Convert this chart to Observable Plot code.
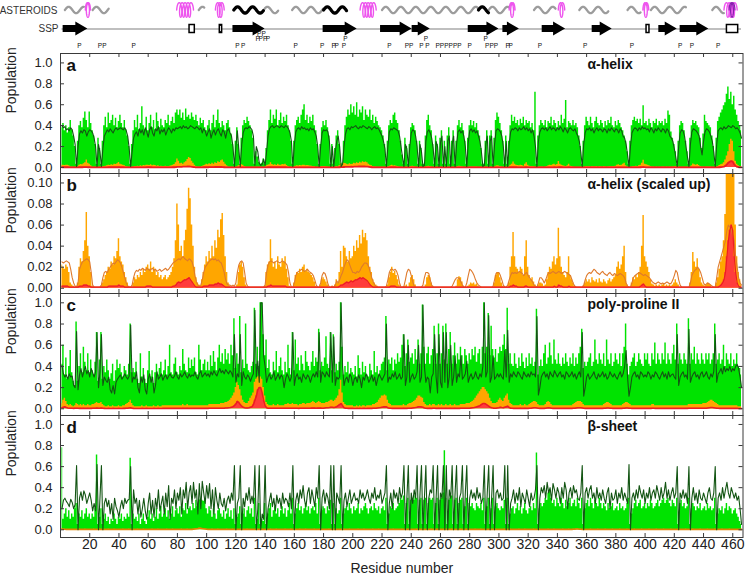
<!DOCTYPE html>
<html><head><meta charset="utf-8">
<script src="https://cdn.jsdelivr.net/npm/d3@7"></script>
<script src="https://cdn.jsdelivr.net/npm/@observablehq/plot@0.6"></script>
<style>
body{margin:0;background:#fff;}
#chart{position:relative;width:745px;height:582px;background:#fff;font-family:"Liberation Sans",Arial,Helvetica,sans-serif;}
#chart > div{position:absolute;left:0;}
</style></head><body><div id="chart"></div>
<script>
// ---------------- DATA (residues 1..466) ----------------
// Panel a: alpha-helix population (percent)
const aGreen = [
38,42,35,40,33,38,45,36,30,20, 3,25,40,44,38,47,53,45,38,53, 42,35,30,22,3,28,18,3,25,40, 48,38,52,42,45,50,40,47,38,44,
50,42,38,45,36,30,20,3,22,35, 45,38,50,36,42,58,40,36,48,35, 42,50,38,45,36,52,44,38,46,40, 38,45,42,50,40,44,48,42,52,55,
50,55,47,52,45,56,48,50,46,52, 48,45,50,44,40,47,42,45,38,35, 40,45,35,42,50,38,45,55,42,38, 44,40,35,42,45,38,32,22,3,25,
38,22,3,28,40,45,42,48,44,40, 35,28,3,15,10,5,3,4,8,3, 18,35,45,55,42,50,46,55,40,45, 52,42,48,44,50,40,35,25,3,25,
40,45,48,42,50,55,60,45,50,42, 48,44,50,40,35,22,3,22,38,44, 40,45,38,30,3,22,3,18,30,35, 22,3,4,25,40,48,55,50,60,52,
58,50,62,48,55,52,58,45,55,50, 48,55,45,50,42,48,44,40,38,35, 30,22,3,25,40,45,42,50,52,45, 42,35,25,12,3,28,20,3,22,38,
42,40,35,25,3,25,18,3,3,30, 45,50,40,35,22,3,30,22,3,28, 35,3,25,3,30,38,3,25,35,3, 25,40,45,38,42,35,25,3,28,40,
45,40,44,38,42,35,30,18,3,3, 25,35,3,30,35,3,28,45,52,48, 42,35,25,3,30,3,25,40,50,44, 48,42,45,40,46,42,48,40,45,42,
44,38,42,35,72,3,30,40,45,42, 40,45,38,44,42,48,40,45,42,38, 44,40,50,42,46,64,38,44,42,40, 45,40,42,38,30,20,3,25,40,48,
44,40,48,42,38,44,48,42,40,45, 42,38,44,40,45,42,48,40,38,44, 40,45,42,38,35,30,25,15,3,25, 40,45,48,44,46,42,46,40,59,42,
44,40,46,42,38,44,42,46,40,44, 42,44,40,46,42,54,50,34,28,22, 15,3,25,40,44,42,35,25,15,3, 28,40,45,42,44,40,38,28,18,32,
50,44,42,40,38,30,20,3,28,44, 48,52,55,59,62,70,77,65,72,60, 68,55,50,44,40,35];
const aLine = [
40,38,39,36,37,35,38,36,30,22, 1,20,32,35,33,36,35,30,34,36, 35,33,28,20,1,22,15,1,18,30, 33,36,34,37,35,33,36,38,36,37,
38,37,36,38,35,30,18,1,15,28, 32,34,30,37,33,36,31,38,34,29, 36,39,33,30,37,35,39,32,36,34, 37,31,35,38,36,33,37,35,38,37,
38,39,37,40,38,39,37,38,40,39, 38,37,39,38,36,38,33,37,35,30, 34,37,28,33,36,31,35,37,33,30, 36,34,28,35,37,33,30,20,1,20,
35,18,1,22,33,37,38,37,39,38, 36,30,2,20,15,4,2,3,8,2, 15,30,37,39,40,38,39,40,39,38, 40,39,38,40,39,37,33,25,1,22,
34,37,38,36,39,37,38,36,37,35, 38,36,37,34,30,20,1,20,33,36, 35,36,34,25,1,20,1,15,25,30, 20,1,3,20,32,37,38,36,39,38,
39,40,38,37,39,38,40,39,38,37, 39,38,36,38,39,37,38,36,33,30, 25,18,1,20,34,37,36,38,37,36, 35,30,20,10,1,22,18,1,20,33,
36,35,30,20,1,22,15,1,2,25, 34,36,33,28,18,1,25,20,1,24, 30,1,20,1,25,30,1,22,30,1, 22,34,36,33,35,30,20,1,24,35,
37,34,36,33,35,30,25,15,1,2, 22,30,1,25,30,1,22,35,37,36, 34,30,20,1,25,1,22,34,37,36, 38,37,35,38,36,37,39,36,38,35,
37,33,36,30,20,1,25,34,37,38, 36,38,35,37,39,36,38,37,35,38, 36,39,37,34,38,36,33,37,38,36, 35,37,33,30,25,15,1,22,33,37,
36,38,35,37,33,36,38,35,37,36, 34,37,36,33,37,35,38,36,34,37, 36,33,37,35,30,28,22,12,1,20, 33,36,38,37,35,38,36,39,37,38,
36,37,34,38,36,33,37,35,38,36, 34,37,36,33,37,35,30,28,25,18, 10,1,20,33,36,35,30,20,10,1, 22,34,37,36,35,33,30,20,12,25,
34,37,36,34,30,25,15,1,22,35, 37,38,36,39,37,38,40,39,38,40, 39,37,38,36,33,28];
// Panel b (and a): alpha-helix, units of 0.001
const bOrange = [
22,20,18,22,20,15,5,3,2,1, 2,5,20,28,25,35,45,72,40,30, 15,2,1,1,1,1,1,2,5,8, 12,15,20,18,25,22,30,28,35,47,
30,25,22,15,10,5,2,1,1,5, 10,8,12,10,15,12,18,15,20,22, 18,25,15,20,18,12,15,10,12,8, 10,12,8,10,12,15,20,28,45,80,
60,35,40,30,45,55,75,95,85,60, 40,20,10,5,3,2,8,15,22,30, 25,35,28,40,30,45,38,55,48,65, 71,50,30,15,5,2,1,1,1,1,
3,15,22,25,20,10,3,1,1,1, 1,1,1,1,1,1,1,1,1,2, 15,22,25,46,28,20,25,18,30,22, 20,28,25,30,18,10,2,1,1,5,
12,15,14,18,15,20,22,16,18,15, 14,12,10,6,2,1,1,3,8,10, 8,6,3,1,1,2,1,3,8,5, 15,35,20,40,38,30,25,35,28,30,
40,35,45,38,50,42,55,48,52,45, 30,20,15,8,5,3,2,1,1,1, 1,1,1,3,10,15,20,14,16,12, 8,3,1,1,1,2,3,1,5,10,
12,8,3,1,1,1,1,1,1,3, 10,12,10,5,2,1,1,1,1,1, 1,1,1,1,1,1,1,1,1,1, 2,8,11,10,6,2,1,1,2,3,
5,4,5,3,4,2,1,1,1,1, 1,1,1,1,1,1,5,12,15,14, 10,5,2,1,1,1,5,20,30,53, 30,20,18,15,20,18,12,30,45,20,
12,8,10,6,3,1,3,5,5,4, 2,3,8,15,20,18,25,30,22,28, 57,30,20,15,12,10,15,30,12,8, 5,2,1,1,1,1,1,2,5,8,
6,8,5,10,7,6,8,5,9,6, 5,8,6,4,7,9,6,8,10,12, 20,25,18,22,30,40,15,3,1,1, 5,10,8,12,10,15,20,40,69,30,
25,20,15,8,4,3,2,3,2,3, 2,3,4,2,3,2,3,2,3,5, 8,5,3,1,1,1,1,1,1,1, 5,15,34,25,20,28,18,10,5,3,
2,3,5,4,3,1,1,1,5,10, 18,25,30,45,70,110,150,220,270,250, 150,60,30,15,8,3];
const bOrangeLine = [
25,24,25,26,25,24,18,10,5,2, 1,5,18,22,25,26,27,28,27,25, 15,3,1,1,1,1,1,3,10,15, 16,15,18,20,22,24,23,25,27,26,
24,20,15,10,5,2,1,1,3,10, 15,17,16,18,17,19,18,17,19,18, 17,18,19,17,18,16,17,18,16,17, 18,19,17,18,20,22,24,25,26,27,
28,27,29,30,28,27,26,28,27,25, 20,12,6,3,2,3,8,15,20,22, 24,26,27,28,27,28,26,27,25,24, 20,15,8,4,3,3,2,3,2,5,
15,22,25,26,24,15,5,2,1,1, 1,1,1,1,1,1,1,1,1,3, 15,22,25,26,25,24,25,26,25,24, 25,26,25,24,22,15,5,1,1,5,
12,15,16,17,18,17,16,17,18,16, 15,14,12,8,3,1,1,5,12,15, 14,10,4,1,1,2,1,3,7,5, 8,12,15,20,24,27,26,22,18,15,
15,14,16,15,17,20,22,24,24,23, 20,15,10,6,3,2,1,1,1,1, 1,1,2,8,15,18,18,17,18,16, 12,5,1,1,2,8,15,18,17,12,
6,2,1,1,1,1,1,3,10,15, 15,14,8,3,1,1,1,1,1,1, 1,1,1,1,1,1,1,2,5,8, 10,10,9,6,3,1,1,5,12,18,
17,15,12,8,5,3,2,1,1,1, 1,1,1,1,1,2,8,14,15,15, 12,8,3,1,1,3,8,12,15,14, 15,14,15,16,15,14,12,14,15,12,
10,8,6,3,2,1,5,10,10,8, 5,8,12,15,14,15,16,15,14,15, 16,15,14,15,16,15,14,13,12,8, 4,2,1,1,1,1,1,3,8,12,
14,15,14,16,18,17,15,14,13,15, 16,14,13,12,14,15,13,12,14,13, 12,13,14,13,12,10,5,2,1,1, 5,10,12,13,14,15,14,13,12,13,
12,11,10,8,6,5,4,5,6,5, 4,5,4,5,6,5,4,5,8,12, 17,15,8,3,1,1,1,1,1,1, 5,12,15,17,18,20,18,15,10,5,
3,4,5,4,3,2,1,1,10,20, 25,30,35,40,45,55,60,58,55,50, 45,30,20,10,5,3];
const bRed = [
2,2,2,2,2,1,1,1,1,1, 1,1,2,2,2,3,3,3,2,2, 1,1,1,1,1,1,1,1,1,1, 1,1,2,2,2,2,2,2,2,3,
2,2,2,1,1,1,1,1,1,1, 1,1,1,1,1,1,1,1,2,2, 2,2,1,1,1,1,1,1,1,1, 1,1,1,1,1,1,2,2,3,5,
6,5,6,7,8,8,9,10,8,6, 4,2,1,1,1,1,1,2,2,2, 2,3,3,3,3,4,4,5,4,4, 3,2,1,1,1,1,1,1,1,1,
1,1,1,1,1,1,1,1,1,1, 1,1,1,1,1,1,1,1,1,1, 1,2,2,3,2,2,2,2,2,2, 2,2,2,2,1,1,1,1,1,1,
1,1,1,1,1,1,1,1,1,1, 1,1,1,1,1,1,1,1,1,1, 1,1,1,1,1,1,1,1,1,1, 2,3,3,4,5,6,5,6,7,6,
7,8,8,9,10,9,10,9,8,7, 5,3,2,1,1,1,1,1,1,1, 1,1,1,1,1,2,2,2,2,1, 1,1,1,1,1,1,1,1,1,1,
1,1,1,1,1,1,1,1,1,1, 1,1,1,1,1,1,1,1,1,1, 1,1,1,1,1,1,1,1,1,1, 1,1,1,1,1,1,1,1,1,1,
1,1,1,1,1,1,1,1,1,1, 1,1,1,1,1,1,1,1,1,1, 1,1,1,1,1,1,1,2,2,3, 2,2,1,1,1,1,1,2,2,1,
1,1,1,1,1,1,1,1,1,1, 1,1,1,1,1,1,1,2,1,1, 3,2,2,1,1,1,1,2,1,1, 1,1,1,1,1,1,1,1,1,1,
1,1,1,1,1,1,1,1,1,1, 1,1,1,1,1,1,1,1,1,1, 1,1,1,1,1,1,1,1,1,1, 1,1,1,1,1,1,2,3,4,2,
1,1,1,1,1,1,1,1,1,1, 1,1,1,1,1,1,1,1,1,1, 1,1,1,1,1,1,1,1,1,1, 1,1,1,1,1,1,1,1,1,1,
1,1,1,1,1,1,1,1,1,1, 2,3,5,8,15,30,45,55,60,55, 30,15,5,2,1,1];
// Panel c: poly-proline II (percent; red in 0.001)
const cGreen = [
42,60,32,48,28,40,55,34,26,22, 82,26,40,52,34,58,44,36,52,34, 46,36,32,44,72,26,46,72,28,40, 34,46,36,28,33,42,26,36,46,38,
42,34,30,40,36,32,42,80,34,38, 34,44,28,24,52,30,38,28,24,36, 54,30,36,24,34,42,32,38,44,32, 36,46,32,40,60,34,32,42,48,34,
32,40,36,56,42,36,34,48,38,46, 40,48,34,32,60,46,36,42,46,36, 44,36,50,40,54,44,36,48,60,44, 52,42,56,46,52,42,60,50,85,38,
52,42,87,34,46,38,80,42,36,34, 40,44,95,42,58,40,100,100,70,50, 65,38,46,34,32,44,36,54,34,40, 48,36,32,44,34,60,38,32,72,36,
65,42,48,36,50,42,36,54,44,40, 36,44,54,40,48,44,75,36,44,40, 48,68,42,38,72,36,70,34,42,36, 44,100,58,32,40,34,44,32,38,34,
32,40,30,50,38,32,44,34,40,32, 30,42,36,32,54,34,40,32,36,42, 44,48,87,36,46,42,48,36,46,42, 52,44,48,60,70,40,52,65,44,48,
52,42,56,46,65,42,52,98,58,42, 52,58,42,50,56,78,42,52,80,42, 52,78,46,80,42,56,72,42,50,62, 42,52,46,58,50,42,56,50,42,52,
46,56,50,58,44,52,56,42,58,100, 52,58,90,50,78,56,48,56,44,52, 58,54,60,70,56,95,42,52,42,40, 52,42,38,48,40,52,44,38,48,40,
52,42,48,40,44,94,32,40,46,40, 52,60,42,48,62,50,42,65,46,42, 52,42,40,48,42,52,44,40,48,42, 52,40,48,42,52,58,75,38,44,40,
44,48,52,40,44,65,46,42,52,46, 42,52,40,65,46,42,52,40,44,52, 46,42,52,40,52,58,80,42,32,40, 44,48,52,40,44,52,46,42,40,52,
46,52,42,40,52,46,62,42,52,46, 42,52,46,62,42,52,46,42,52,60, 46,80,42,52,46,42,52,46,42,85, 42,52,46,58,42,52,46,42,52,46,
42,52,46,52,42,46,52,80,42,46, 52,42,46,60,40,52,46,42,52,40, 46,42,52,40,38,32];
const cLine = [
41,33,30,32,28,33,30,31,22,20, 73,18,32,38,30,35,40,33,36,30, 38,34,30,35,72,20,35,70,22,30, 27,25,30,18,15,22,14,25,28,30,
32,28,30,33,30,28,31,79,25,30, 28,35,20,15,30,25,32,18,14,28, 33,25,30,15,22,35,28,30,33,27, 30,32,28,31,33,30,29,31,35,30,
28,33,30,32,35,31,29,33,30,32, 31,35,30,28,33,36,30,32,34,31, 33,30,35,32,36,33,31,35,38,34, 36,33,37,35,33,36,34,30,70,25,
33,30,70,22,35,30,28,32,30,26, 30,33,93,30,45,25,100,100,50,40, 25,30,33,28,30,35,27,30,33,28, 32,30,20,28,33,30,26,30,72,22,
30,33,28,30,25,33,30,28,32,30, 25,30,33,30,35,30,72,25,35,33, 30,35,32,30,72,25,68,22,30,28, 30,100,40,22,28,30,25,33,30,22,
28,30,25,32,28,20,30,27,33,30, 25,28,32,26,30,22,28,33,30,27, 30,33,80,25,30,28,33,30,35,28, 30,33,28,30,70,22,30,60,25,30,
33,28,30,35,60,25,30,98,40,25, 30,28,15,30,33,70,30,15,70,25, 20,72,25,72,20,30,60,22,30,50, 25,33,30,50,28,30,33,45,25,30,
33,28,30,35,30,28,33,30,40,100, 30,35,88,25,30,50,28,30,33,30, 33,30,28,55,30,74,25,33,30,35, 32,30,35,33,30,28,35,32,30,33,
30,35,32,33,30,87,13,20,30,33, 35,30,33,28,35,32,30,36,33,30, 33,35,30,32,28,35,33,30,32,35, 30,33,28,32,35,30,72,12,20,30,
33,28,30,32,35,30,28,33,30,32, 35,30,33,28,30,35,32,30,33,30, 28,32,35,30,33,40,55,30,12,20, 30,33,35,30,32,28,35,33,30,32,
30,35,33,28,32,30,35,33,30,28, 32,35,30,33,28,35,30,32,33,30, 28,70,22,30,33,35,30,32,28,75, 25,30,33,35,30,32,28,33,35,30,
32,35,30,28,33,30,35,70,25,33, 35,38,33,40,35,38,36,40,35,38, 36,40,42,38,30,20];
const cOrange = [
5,8,10,7,4,3,4,3,2,3, 5,4,3,4,3,4,3,3,4,3, 3,4,4,5,6,5,5,6,4,3, 2,2,3,2,2,3,2,2,2,3,
2,2,3,3,4,5,6,8,5,3, 2,2,2,2,2,3,2,2,3,2, 2,2,2,3,2,2,3,2,2,3, 3,3,3,3,3,3,3,3,3,3,
3,3,3,4,3,3,4,3,3,3, 3,3,3,3,3,3,3,3,3,3, 3,4,4,4,4,4,4,4,4,5, 5,5,6,6,7,8,10,12,15,20,
25,22,18,12,8,6,5,5,7,10, 12,15,25,28,30,31,30,28,20,12, 6,4,3,3,3,4,3,3,4,3, 3,3,3,4,4,5,4,4,5,4,
4,4,3,4,4,5,5,4,5,5, 5,6,7,6,5,6,7,6,5,5, 5,6,6,7,8,8,7,8,10,12, 18,27,15,6,4,3,3,3,3,3,
2,2,3,2,3,2,3,3,2,3, 3,3,3,4,4,5,6,8,10,12, 12,13,12,8,5,4,3,3,3,3, 3,3,3,3,4,3,3,4,5,5,
6,7,8,10,12,12,11,10,6,4, 3,3,4,3,4,4,3,3,4,3, 4,3,3,4,3,3,4,3,3,4, 3,3,3,4,4,4,4,5,5,5,
6,7,8,10,12,14,16,18,20,20, 18,16,14,10,7,5,5,5,6,8, 10,8,7,10,12,14,8,5,4,3, 3,3,3,3,4,3,3,4,3,3,
4,5,6,7,7,6,4,3,3,3, 3,4,6,7,6,4,3,3,3,3, 3,3,3,3,3,3,3,3,3,3, 4,5,6,7,7,7,6,4,3,3,
3,3,3,3,3,3,3,3,3,3, 3,4,5,6,6,5,4,3,3,3, 3,3,3,3,4,5,6,6,5,4, 3,3,3,3,3,3,3,3,3,3,
3,3,3,3,4,4,3,3,3,3, 3,3,3,3,3,3,3,3,3,3, 3,3,3,3,3,3,3,3,3,4, 4,4,4,4,4,4,4,4,4,5,
5,5,6,7,8,8,7,6,5,4, 3,3,3,3,3,3,3,3,3,3, 3,3,3,2,2,2];
const cRed = [
10,15,20,12,8,5,5,5,4,5, 6,5,4,5,4,5,4,4,5,4, 4,5,5,6,8,6,6,8,5,4, 3,3,4,3,3,4,3,3,3,4,
3,3,4,4,5,6,8,10,6,4, 3,3,3,3,3,4,3,3,4,3, 3,3,3,4,3,3,4,3,3,4, 4,4,4,4,4,4,4,4,4,4,
4,4,4,5,4,4,5,4,4,4, 4,4,4,4,4,4,4,4,4,4, 4,5,5,5,5,5,5,5,5,6, 6,6,8,8,10,12,15,20,30,45,
70,60,40,25,15,10,8,8,10,15, 20,40,80,120,180,200,200,150,80,30, 10,6,5,5,5,5,5,5,5,5, 5,5,5,5,5,6,5,5,6,5,
5,5,4,5,5,6,6,5,6,6, 6,7,8,7,6,7,8,7,6,6, 8,10,10,12,15,15,12,15,20,30, 40,50,30,10,6,5,4,4,4,4,
3,3,4,3,4,3,4,4,3,4, 4,4,4,5,5,6,8,10,12,15, 18,20,18,10,6,5,4,4,4,4, 4,4,4,4,5,4,4,5,6,6,
8,10,12,15,20,20,18,15,8,5, 4,4,5,4,5,5,4,4,5,4, 5,4,4,5,4,4,5,4,4,5, 4,4,4,5,5,5,5,6,6,6,
8,10,12,15,20,25,30,40,50,50, 45,35,25,15,10,7,6,6,8,10, 15,12,10,15,20,25,12,6,5,4, 4,4,4,4,5,4,4,5,4,4,
5,6,8,10,10,8,5,4,4,4, 4,5,8,10,8,5,4,4,4,4, 4,4,4,4,4,4,4,4,4,4, 5,6,8,10,10,10,8,5,4,4,
4,4,4,4,4,4,4,4,4,4, 4,5,6,8,8,6,5,4,4,4, 4,4,4,4,5,6,8,8,6,5, 4,4,4,4,4,4,4,4,4,4,
4,4,4,4,5,5,4,4,4,4, 4,4,4,4,4,4,4,4,4,4, 4,4,4,4,4,4,4,4,4,5, 5,5,5,5,5,5,5,5,5,6,
6,6,8,10,12,12,10,8,6,5, 4,4,4,4,4,4,4,4,4,4, 4,4,4,3,3,3];
// Panel d: beta-sheet (percent; orange in 0.001)
const dGreen = [
78,10,15,20,12,18,10,15,12,20, 25,5,15,12,18,10,15,20,12,15, 10,15,12,20,71,5,12,20,5,10, 15,8,12,5,10,8,15,10,5,12,
10,15,8,12,10,15,12,68,5,15, 10,12,8,15,5,10,15,8,5,12, 18,10,15,8,12,20,10,15,22,12, 15,20,12,18,10,15,22,12,18,20,
15,22,12,20,18,25,15,20,22,18, 25,20,28,22,28,29,28,27,29,20, 15,22,18,12,20,15,10,18,20,15, 12,18,10,15,20,12,18,10,20,5,
12,15,22,5,15,20,12,18,22,15, 20,12,30,5,10,25,5,10,8,25, 5,15,20,25,12,18,22,15,20,12, 18,22,15,20,12,18,25,15,30,5,
15,20,25,18,22,15,20,25,18,22, 15,20,22,18,25,15,30,5,18,22, 20,15,22,18,28,5,25,5,20,15, 18,30,5,15,20,22,18,25,20,15,
22,18,20,25,15,20,18,22,25,20, 15,20,22,18,25,20,18,22,15,20, 22,18,30,5,15,22,20,25,18,20, 22,25,30,28,32,5,25,30,5,28,
30,28,32,30,5,28,30,5,28,30, 5,25,30,28,30,5,25,30,5,28, 30,35,75,30,5,28,30,32,5,28, 30,5,25,28,30,5,22,30,5,25,
22,25,20,18,25,22,20,25,18,30, 5,22,30,5,20,30,5,22,25,20, 18,22,20,28,5,30,5,15,20,22, 15,20,25,18,22,15,20,25,18,15,
20,22,18,25,20,73,5,20,25,22, 25,30,28,35,38,30,25,28,22,30, 25,22,30,25,20,28,22,25,30,22, 25,28,22,30,25,20,30,5,20,25,
28,22,30,25,20,28,25,22,30,25, 20,25,22,18,25,20,22,25,18,20, 22,18,25,20,22,18,20,25,30,5, 15,20,25,28,22,25,28,20,22,25,
20,25,22,28,25,20,22,25,28,22, 25,28,30,25,28,30,25,22,28,25, 22,30,5,25,28,22,25,20,22,30, 5,20,25,22,18,22,20,25,18,20,
22,18,25,20,22,18,20,30,5,15, 20,18,22,15,20,25,18,22,20,15, 18,20,15,12,8,5];
const dLine = [
20,28,30,27,25,22,29,26,20,24, 61,0,30,36,28,37,33,25,30,35, 28,18,25,18,62,0,30,61,0,25, 30,22,28,15,25,10,30,22,18,12,
22,28,20,30,25,28,29,60,0,38, 25,30,15,28,12,20,30,18,10,25, 35,15,28,12,30,20,38,18,25,32, 15,35,22,42,10,30,25,38,20,35,
28,40,15,38,30,45,20,35,42,25, 45,30,38,15,44,20,46,35,25,42, 30,44,20,38,15,40,28,20,35,25, 22,30,18,28,32,25,35,28,61,0,
25,30,61,0,30,22,35,28,40,25, 32,25,61,0,20,61,0,15,10,61, 0,20,28,35,22,30,18,33,25,30, 20,35,25,30,28,22,35,20,61,0,
28,35,25,38,30,42,28,22,35,40, 25,38,30,22,40,30,61,0,30,38, 25,35,30,20,61,0,61,0,35,30, 25,61,0,28,35,22,30,38,25,30,
35,28,30,25,38,30,35,28,32,38, 30,25,35,30,40,28,33,30,38,25, 30,35,61,0,25,35,20,38,30,35, 25,40,30,35,61,0,30,61,0,35,
25,38,30,61,0,35,61,0,30,61, 0,30,38,35,61,0,30,61,0,35, 30,61,0,61,0,38,30,61,0,35, 61,0,30,35,61,0,35,61,0,30,
38,30,35,28,40,30,35,25,30,61, 0,35,61,0,30,61,0,35,38,30, 35,28,30,61,0,61,0,25,30,38, 25,35,28,40,22,35,30,25,38,30,
22,35,28,30,38,61,0,30,40,35, 42,30,45,35,40,28,44,38,30,40, 35,25,40,30,45,38,20,35,40,30, 42,35,38,30,28,35,61,0,35,40,
30,38,42,30,35,25,40,30,35,28, 38,30,25,35,40,20,35,28,30,38, 25,35,30,40,28,35,30,25,62,0, 30,35,28,38,30,42,35,30,38,25,
35,30,40,28,35,38,30,42,35,28, 40,30,35,45,30,38,28,35,40,30, 35,60,0,35,30,38,30,35,25,60, 0,30,40,28,35,25,38,30,28,35,
30,25,35,40,30,28,35,60,0,30, 35,28,40,30,38,45,35,30,40,35, 30,35,28,32,20,5];
const dOrange = [
8,6,5,4,4,4,4,4,4,4, 4,4,5,4,4,4,5,4,4,4, 4,4,5,4,4,4,5,4,4,4, 4,4,5,4,4,4,5,4,4,4,
4,4,5,4,4,4,5,4,4,4, 4,4,5,4,4,4,5,4,4,4, 4,4,5,4,4,4,5,4,4,4, 4,4,5,4,4,4,5,4,4,4,
4,4,5,4,4,4,5,4,4,4, 6,8,10,12,15,15,12,10,8,6, 4,4,4,5,4,4,4,5,4,4, 4,4,4,5,4,4,4,5,4,4,
4,4,4,5,4,4,4,5,4,4, 4,4,4,5,4,4,4,5,4,4, 4,4,4,5,4,4,4,5,4,4, 4,4,4,5,4,4,4,5,4,4,
4,4,4,5,4,4,4,5,4,4, 4,4,4,5,4,4,4,5,4,4, 4,4,4,5,4,4,4,5,4,4, 4,4,4,5,4,4,4,5,4,4,
4,4,4,5,4,4,4,5,4,4, 4,4,4,5,4,4,4,5,4,4, 4,4,4,5,4,4,4,5,4,4, 4,4,4,5,4,4,4,5,4,4,
4,4,4,5,4,4,4,5,4,4, 4,4,4,5,4,4,4,5,4,4, 4,4,4,5,4,4,4,5,4,4, 4,4,4,5,4,4,4,5,4,4,
4,4,4,5,4,4,4,5,4,4, 4,4,4,5,4,4,4,5,4,4, 4,4,4,5,4,4,4,5,4,4, 4,4,4,5,4,4,4,5,4,4,
4,4,4,5,4,4,4,5,4,4, 4,4,4,5,4,4,4,5,4,4, 4,4,4,5,4,4,4,5,4,4, 5,6,8,8,6,5,4,4,4,4,
4,4,5,4,4,4,4,5,4,4, 4,4,5,4,4,4,4,5,4,4, 4,4,5,4,4,4,4,5,4,4, 4,4,5,4,4,4,4,5,4,4,
4,4,5,4,4,4,4,5,4,4, 4,4,5,4,4,4,4,5,4,4, 4,4,5,4,4,4,4,5,4,4, 4,4,5,4,4,4,4,5,4,4,
4,4,5,4,4,4,4,5,4,4, 4,4,5,4,4,4,4,5,4,4, 4,4,4,4,4,4];

// Top annotation tracks (residue ranges)
const asterGray = [[3,16],[22,33],[94.6,98.5],[139,149],[158.5,180],[220,286],[293,307],[324,339],[355,375],[388,397],[404,428],[446,454]];
const asterBlack = [[118.6,139],[180,196],[286,293]];
const asterHelix = [[17,20.5],[79.5,91],[106,112],[205,216],[307,311],[340.6,345],[398.5,402.5],[454,463]];
const asterHelixDark = [[457.5,461.5]];
const sspArrows = [[1.8,18.7],[118,140],[179.7,203],[219,240.6],[240.6,253],[279,300],[302.7,314],[329.6,345.6],[363.8,377.5],[409.4,422],[424,443.6]];
const sspBoxes = [[88.3,91.9],[109,110.6],[401,403],[456,463.7]];
const prolinesLow = [13,27,30,50,121,125,161,179,187,189,194,225,237,240,247,251,258,261,264,267,270,273,280,292,295,298,306,308,328,359,391,424,432,450];
const prolinesMid = [135,137,140,142,195,250,291];
const prolinesHigh = [136,139];

const xTicks = d3.range(20, 461, 20);
const residues = d3.range(1, 467);

// ---------------- DRAWING ----------------
const W = 745, ML = 60, MR = 2.5, xDomain = [0, 467];
const KX = (W - ML - MR) / (xDomain[1] - xDomain[0]);
const FONT = "Liberation Sans, Arial, Helvetica, sans-serif";
const GREEN = "#00e300", DARK = "#135513", ORANGE = "#ffa600", ORLINE = "#df7a2c", RED = "#ff3c3c", REDLINE = "#ec1c24", FRAME = "#3a3a3a";
const rows = residues.map((r, i) => ({
  r,
  aG: aGreen[i] / 100, aL: aLine[i] / 100,
  bO: bOrange[i] / 1000, bOL: bOrangeLine[i] / 1000, bR: bRed[i] / 1000,
  cG: cGreen[i] / 100, cL: cLine[i] / 100, cO: cOrange[i] / 100, cR: cRed[i] / 1000,
  dG: dGreen[i] / 100, dL: dLine[i] / 100, dO: dOrange[i] / 1000
}));

const chart = document.getElementById("chart");
function mount(node, top) {
  const d = document.createElement("div");
  d.style.top = top + "px";
  d.appendChild(node);
  chart.appendChild(d);
}

function panel({height, yDomain, yTicks, yFmt, marks, letter, title, bottom = 0}) {
  const innerW = W - ML - MR;
  const all = [
    ...marks,
    Plot.frame({stroke: FRAME, strokeWidth: 1}),
    Plot.tickX(xTicks, {x: d => d, insetBottom: height - 4, stroke: FRAME}),
    Plot.tickX(xTicks, {x: d => d, insetTop: height - 4, stroke: FRAME}),
    Plot.tickY(yTicks, {y: d => d, insetRight: innerW - 4, stroke: FRAME}),
    Plot.tickY(yTicks, {y: d => d, insetLeft: innerW - 4, stroke: FRAME}),
    Plot.axisY({ticks: yTicks, tickSize: 0, tickPadding: 8, tickFormat: yFmt, fontSize: 13, label: null}),
    Plot.text(["Population"], {frameAnchor: "left", rotate: -90, dx: -49, fontSize: 14, fill: "#222"}),
    Plot.text([letter], {frameAnchor: "top-left", dx: 6, dy: 5, fontSize: 17, fontWeight: "bold", fill: "#111"}),
    Plot.text([title], {frameAnchor: "top-left", dx: 527, dy: 6, fontSize: 14, fontWeight: "bold", fill: "#111"})
  ];
  if (bottom) {
    all.push(Plot.axisX({ticks: xTicks, tickSize: 0, tickPadding: 2, fontSize: 14, label: null}));
    all.push(Plot.text(["Residue number"], {frameAnchor: "bottom", dy: 35, fontSize: 14, fill: "#222"}));
  }
  return Plot.plot({
    width: W, height: height + bottom, marginLeft: ML, marginRight: MR, marginTop: 0, marginBottom: bottom,
    x: {domain: xDomain, axis: null}, y: {domain: yDomain, axis: null},
    style: {fontFamily: FONT, color: "#222", background: "transparent", overflow: "visible"},
    marks: all
  });
}

// --- top annotation track ---
function wavePts(segs, yc, tag) {
  const pts = [];
  segs.forEach(([s, e], k) => {
    const wpx = (e - s) * KX;
    for (let p = 0; p <= wpx + 0.01; p += 0.5) pts.push({x: s + p / KX, y: yc - 3.2 * Math.sin(2 * Math.PI * p / 15), z: tag + k});
  });
  return pts;
}
function coilPts(segs, yc, tag) {
  const pts = [];
  segs.forEach(([s, e], k) => {
    const wpx = (e - s) * KX, a = 1.8, b = 7.3;
    const n = Math.max(1, Math.round((wpx - 2 * a) / 3.2));
    const p = Math.max(0.3, (wpx - 2 * a) / (n + 0.5));
    const x0 = s * KX + p / 4;
    for (let t = -0.25; t <= n + 0.2501; t += 0.02) {
      pts.push({x: (x0 + a + p * t + a * Math.sin(2 * Math.PI * t)) / KX, y: yc - b * Math.cos(2 * Math.PI * t), z: tag + k});
    }
  });
  return pts;
}
function arrowPts(segs, yc) {
  const pts = [];
  segs.forEach(([s, e], k) => {
    const L = (e - s) * KX, hl = Math.min(12, L * 0.8), hs = e - hl / KX;
    pts.push({x: s, y1: yc - 3.5, y2: yc + 3.5, z: k}, {x: hs, y1: yc - 3.5, y2: yc + 3.5, z: k},
             {x: hs, y1: yc - 7, y2: yc + 7, z: k}, {x: e, y1: yc, y2: yc, z: k});
  });
  return pts;
}
const YA = 9.5, YS = 28.5;
const topTrack = Plot.plot({
  width: W, height: 53, marginLeft: ML, marginRight: MR, marginTop: 0, marginBottom: 0,
  x: {domain: xDomain, axis: null}, y: {domain: [0, 53], range: [0, 53], axis: null},
  style: {fontFamily: FONT, color: "#222", background: "transparent", overflow: "visible"},
  marks: [
    Plot.ruleY([YS], {x1: residues[0], x2: residues[residues.length - 1], stroke: "#aaa", strokeWidth: 1.5}),
    Plot.area(arrowPts(sspArrows, YS), {x1: "x", y1: "y1", y2: "y2", z: "z", fill: "black", curve: "linear"}),
    Plot.rect(sspBoxes, {x1: d => d[0], x2: d => d[1], y1: YS - 4, y2: YS + 4, fill: "white", stroke: "black", strokeWidth: 1.5}),
    Plot.line(wavePts(asterGray, YA, "g"), {x: "x", y: "y", z: "z", stroke: "#9c9c9c", strokeWidth: 2.3}),
    Plot.line(wavePts(asterBlack, YA, "b"), {x: "x", y: "y", z: "z", stroke: "black", strokeWidth: 3.2}),
    Plot.line(coilPts(asterHelix, YA, "h"), {x: "x", y: "y", z: "z", stroke: "#ee55ee", strokeWidth: 1.4}),
    Plot.line(coilPts(asterHelixDark, YA, "k"), {x: "x", y: "y", z: "z", stroke: "#8a1fb0", strokeWidth: 1.2}),
    Plot.text(["ASTEROIDS"], {frameAnchor: "left", y: YA + 1, dx: -3, textAnchor: "end", fontSize: 10, fill: "#333"}),
    Plot.text(["SSP"], {frameAnchor: "left", y: YS, dx: -2, textAnchor: "end", fontSize: 10, fill: "#333"}),
    Plot.text(prolinesLow, {x: d => d, y: 45, text: () => "P", fontSize: 6.5, fill: "#111"}),
    Plot.text(prolinesMid, {x: d => d, y: 38.5, text: () => "P", fontSize: 6.5, fill: "#111"}),
    Plot.text(prolinesHigh, {x: d => d, y: 33, text: () => "P", fontSize: 6.5, fill: "#111"})
  ]
});
mount(topTrack, 0);

const f1 = d3.format(".1f"), f2 = d3.format(".2f");
const t1 = [0, 0.2, 0.4, 0.6, 0.8, 1.0], t2 = [0, 0.02, 0.04, 0.06, 0.08, 0.10];

mount(panel({height: 120, yDomain: [-0.058, 1.09], yTicks: t1, yFmt: f1, letter: "a", title: "α-helix", marks: [
  Plot.areaY(rows, {x: "r", y: "aG", fill: GREEN, curve: "step"}),
  Plot.areaY(rows, {x: "r", y: "bO", fill: ORANGE, curve: "step"}),
  Plot.areaY(rows, {x: "r", y: "bR", fill: RED, curve: "step"}),
  Plot.lineY(rows, {x: "r", y: "bR", stroke: REDLINE, strokeWidth: 1.8}),
  Plot.lineY(rows, {x: "r", y: "aL", stroke: DARK, strokeWidth: 1.1})
]}), 53);

mount(panel({height: 120, yDomain: [-0.005, 0.109], yTicks: t2, yFmt: f2, letter: "b", title: "α-helix (scaled up)", marks: [
  Plot.areaY(rows, {x: "r", y: "bO", fill: ORANGE, curve: "step", clip: true}),
  Plot.areaY(rows, {x: "r", y: "bR", fill: RED, curve: "step", clip: true}),
  Plot.lineY(rows, {x: "r", y: "bOL", stroke: ORLINE, strokeWidth: 1.1, clip: true}),
  Plot.lineY(rows, {x: "r", y: "bR", stroke: REDLINE, strokeWidth: 1.2, clip: true})
]}), 173);

mount(panel({height: 122, yDomain: [-0.063, 1.088], yTicks: t1, yFmt: f1, letter: "c", title: "poly-proline II", marks: [
  Plot.areaY(rows, {x: "r", y: "cG", fill: GREEN, curve: "step"}),
  Plot.areaY(rows, {x: "r", y: "cO", fill: ORANGE, curve: "step"}),
  Plot.areaY(rows, {x: "r", y: "cR", fill: RED, curve: "step"}),
  Plot.lineY(rows, {x: "r", y: "cR", stroke: REDLINE, strokeWidth: 1.6}),
  Plot.lineY(rows, {x: "r", y: "cL", stroke: DARK, strokeWidth: 1.1})
]}), 293);

mount(panel({height: 122, yDomain: [-0.073, 1.085], yTicks: t1, yFmt: f1, letter: "d", title: "β-sheet", bottom: 45, marks: [
  Plot.areaY(rows, {x: "r", y: "dG", fill: GREEN, curve: "step"}),
  Plot.areaY(rows, {x: "r", y: "dO", fill: ORANGE, curve: "step"}),
  Plot.lineY(rows, {x: "r", y: "dO", stroke: "#e08400", strokeWidth: 1.6}),
  Plot.lineY(rows, {x: "r", y: "dL", stroke: DARK, strokeWidth: 1.1})
]}), 415);
</script></body></html>
